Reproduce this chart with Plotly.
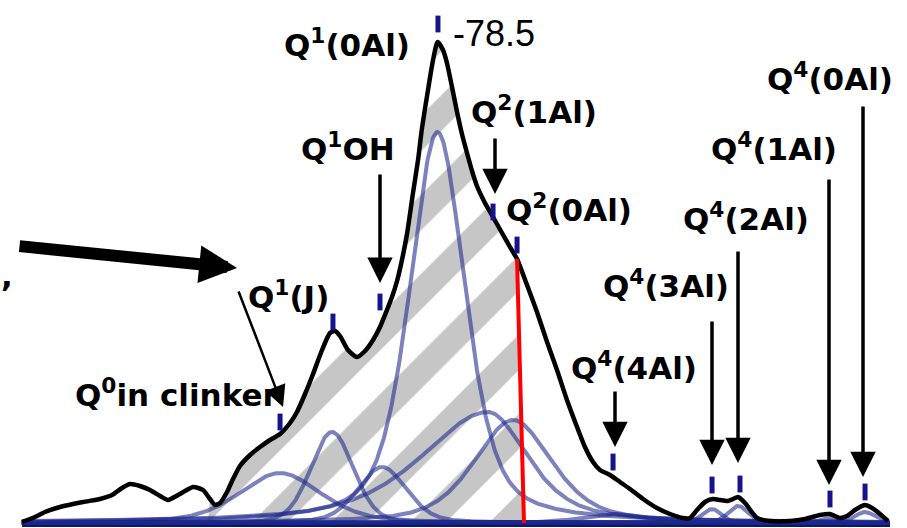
import numpy as np
import plotly.graph_objects as go

W, H = 907, 528
X_LEFT, X_RIGHT = -42.083, -117.667   # ppm at the page edges (reversed axis)
Y_BOTTOM, Y_TOP = -5, 523

# ---- measured 29Si spectrum (ppm, intensity) ----
spec_ppm = [-43.92, -45.0, -45.83, -47.08, -49.0, -50.42, -51.42, -52.25, -52.92, -53.75,
            -54.58, -55.42, -56.08, -57.08, -58.17, -59.0, -59.58, -60.0, -60.42, -61.0,
            -61.5, -62.08, -62.92, -63.75, -64.58, -65.42, -66.25, -66.83, -67.5, -68.17,
            -68.92, -69.58, -70.0, -70.42, -71.08, -71.83, -72.5, -73.17, -73.75, -74.33,
            -74.75, -75.17, -75.58, -76.0, -76.5, -76.92, -77.25, -77.75, -78.17, -78.55,
            -79.0, -79.33, -79.75, -80.17, -80.58, -81.0, -81.42, -81.83, -82.5, -83.17,
            -83.92, -84.58, -85.17, -86.0, -86.83, -87.67, -88.5, -89.33, -90.17, -90.83,
            -91.5, -92.08, -92.92, -93.75, -94.58, -95.67, -96.83, -97.92, -99.0, -99.58,
            -100.17, -100.83, -101.5, -102.08, -102.67, -103.17, -103.58, -104.17, -104.67, -105.17,
            -106.25, -107.92, -109.17, -110.42, -111.25, -112.08, -112.67, -113.33, -114.17, -114.75,
            -115.42, -116.08]
spec_int = [1, 6, 11, 16, 21, 24, 28, 35, 39, 37,
            33, 27, 23, 29, 36, 33, 24, 18, 20, 31,
            44, 57, 68, 76, 83, 89, 100, 111, 129, 149,
            173, 190, 192, 187, 173, 166, 172, 183, 196, 213,
            226, 242, 263, 289, 330, 363, 395, 433, 463, 481,
            473, 460, 436, 411, 389, 370, 352, 337, 320, 306,
            290, 276, 264, 238, 211, 181, 153, 123, 96, 76,
            61, 53, 48, 41, 34, 24, 15, 9, 5, 5,
            13, 21, 24, 23, 22, 24, 26, 20, 12, 5,
            2, 2, 4, 8, 9, 5, 7, 13, 18, 15,
            9, 2]

# ---- deconvolution components: centre, height, widths (left/right, ppm), lorentz fraction ----
comp_center = [-65.42, -69.75, -73.92, -78.54, -82.75, -84.83, -93.2, -101.42, -103.6, -111.25, -114.17]
comp_height = [50, 91, 56, 391, 111, 103, 9, 14, 17, 5, 11]
comp_wleft = [8.0, 4.2, 4.8, 5.5, 13.3, 7.7, 6.0, 1.9, 2.0, 1.7, 2.0]
comp_wright = [8.0, 4.2, 4.8, 5.5, 7.9, 7.7, 6.0, 1.9, 2.0, 1.7, 2.0]
comp_eta = [0.4, 0.2, 0.3, 0.5, 0.6, 0.5, 0.5, 0.3, 0.3, 0.3, 0.3]

# ---- peak position markers ----
tick_ppm = [-78.58, -83.17, -85.17, -69.83, -73.75, -65.42, -93.17, -101.42, -103.75, -111.25, -114.17]
tick_int = [499, 311, 278, 201, 221, 101, 61, 38, 39, 24, 31]

# ---- red boundary line and hatched region start ----
red_ppm = [-85.17, -85.75]
red_int = [264, 0]
hatch_start = -59.4

baseline_ppm = [-43.92, -116.25]
baseline_int = [-1.5, -1.5]


def pvoigt(x, c, h, wl, wr, eta):
    w = np.where(x > c, wl, wr)
    t = (x - c) / w
    g = np.exp(-4 * np.log(2) * t ** 2)
    lz = 1.0 / (1 + 4 * t ** 2)
    return h * (eta * lz + (1 - eta) * g)


fig = go.Figure()

# hatched region under the spectrum up to the red line
hx = [hatch_start]
hy = [0]
for p, v in zip(spec_ppm, spec_int):
    if hatch_start >= p > red_ppm[0]:
        hx.append(p)
        hy.append(v)
hx += red_ppm
hy += red_int
fig.add_trace(go.Scatter(
    x=hx, y=hy, mode='none', fill='toself', fillcolor='rgba(0,0,0,0)',
    fillpattern=dict(shape='/', size=56, solidity=0.45, fgcolor='rgb(192,192,192)',
                     bgcolor='rgba(255,255,255,0)', fgopacity=0.9),
    hoverinfo='skip', showlegend=False))

# baseline
fig.add_trace(go.Scatter(x=baseline_ppm, y=baseline_int, mode='lines',
                         line=dict(color='rgb(15,20,110)', width=5), showlegend=False))

# components
grid = np.linspace(-43.9, -116.2, 1200)
for c, h, wl, wr, eta in zip(comp_center, comp_height, comp_wleft, comp_wright, comp_eta):
    fig.add_trace(go.Scatter(x=grid, y=pvoigt(grid, c, h, wl, wr, eta), mode='lines',
                             line=dict(color='rgba(30,40,140,0.58)', width=4),
                             showlegend=False))

# spectrum
fig.add_trace(go.Scatter(x=spec_ppm, y=spec_int, mode='lines',
                         line=dict(color='black', width=4.5, shape='spline', smoothing=0.6),
                         showlegend=False))

# red line
fig.add_trace(go.Scatter(x=red_ppm, y=red_int, mode='lines',
                         line=dict(color='rgb(255,0,0)', width=4), showlegend=False))

# peak ticks
fig.add_trace(go.Scatter(x=tick_ppm, y=tick_int, mode='markers',
                         marker=dict(symbol='line-ns', size=12,
                                     line=dict(width=5, color='rgb(20,20,140)')),
                         showlegend=False))


def px(xp):
    return xp / W


def py(yp):
    return 1 - yp / H


LBL = dict(family='DejaVu Sans', size=31, color='black', weight='bold')
labels = [
    ('Q<sup>1</sup>(0Al)', 347, 43),
    ('Q<sup>1</sup>OH', 348, 147),
    ('Q<sup>2</sup>(1Al)', 534, 110),
    ('Q<sup>2</sup>(0Al)', 569, 208),
    ('Q<sup>4</sup>(0Al)', 830, 77),
    ('Q<sup>4</sup>(1Al)', 774, 147),
    ('Q<sup>4</sup>(2Al)', 746, 217),
    ('Q<sup>4</sup>(3Al)', 666, 284),
    ('Q<sup>4</sup>(4Al)', 634, 366),
    ('Q<sup>1</sup>(J)', 288, 295),
    ('Q<sup>0</sup>in clinker', 176, 393),
]
ann = []
for t, x0, y0 in labels:
    ann.append(dict(text=t, x=px(x0), y=py(y0), xref='paper', yref='paper',
                    xanchor='center', yanchor='middle', showarrow=False, font=LBL))
ann.append(dict(text='-78.5', x=px(494), y=py(33), xref='paper', yref='paper',
                xanchor='center', yanchor='middle', showarrow=False,
                font=dict(family='Liberation Sans', size=36, color='black')))
ann.append(dict(text='e,', x=px(15), y=py(276), xref='paper', yref='paper',
                xanchor='right', yanchor='middle', showarrow=False, font=LBL))

# arrows: (tail x, tail y, tip x, tip y, width, size)
arrows = [
    (18, 246, 237, 268, 12, 0.63),
    (238, 290, 283, 407, 2.5, 1.7),
    (380, 173, 380, 283, 3.5, 1.45),
    (495, 137, 495, 194, 3.5, 1.45),
    (615, 390, 615, 447, 3.5, 1.45),
    (712, 320, 712, 465, 3.5, 1.45),
    (738, 250, 738, 463, 3.5, 1.45),
    (829, 178, 829, 485, 3.5, 1.45),
    (863, 105, 863, 477, 3.5, 1.45),
]
for tx, ty, hx_, hy_, w, s in arrows:
    ann.append(dict(text='', x=px(hx_), y=py(hy_), xref='paper', yref='paper',
                    ax=tx - hx_, ay=ty - hy_, showarrow=True, arrowhead=2,
                    arrowwidth=w, arrowsize=s, arrowcolor='black', standoff=0))

fig.update_layout(
    width=W, height=H, margin=dict(l=0, r=0, t=0, b=0),
    paper_bgcolor='white', plot_bgcolor='white',
    xaxis=dict(range=[X_LEFT, X_RIGHT], visible=False, showgrid=False, zeroline=False),
    yaxis=dict(range=[Y_BOTTOM, Y_TOP], visible=False, showgrid=False, zeroline=False),
    annotations=ann, showlegend=False,
)

fig.write_html('out.html', config={'displayModeBar': False},
               post_script="document.body.style.margin='0px';")
